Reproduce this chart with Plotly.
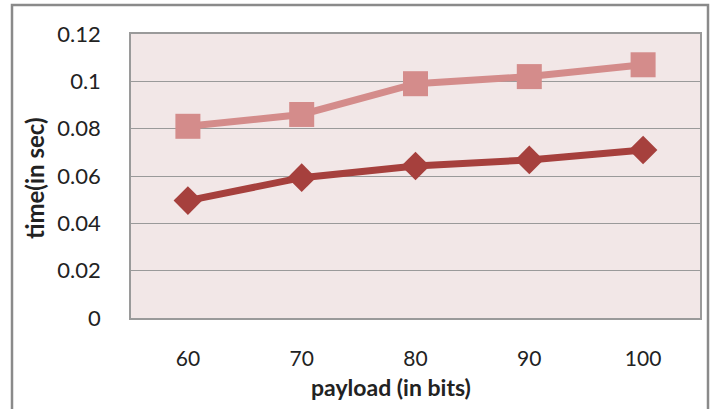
import plotly.graph_objects as go

categories = ["60", "70", "80", "90", "100"]
series_square = [0.081, 0.086, 0.099, 0.102, 0.107]
series_diamond = [0.0496, 0.0593, 0.0642, 0.0668, 0.071]
y_ticks = [0, 0.02, 0.04, 0.06, 0.08, 0.1, 0.12]
y_tick_labels = ["0", "0.02", "0.04", "0.06", "0.08", "0.1", "0.12"]
x_title = "payload (in bits)"
y_title = "time(in sec)"

FONT = "Lato"

fig = go.Figure()
fig.add_trace(go.Scatter(
    x=categories, y=series_square, mode="lines+markers",
    line=dict(color="#d48c8b", width=7),
    marker=dict(symbol="square", size=25, color="#d48c8b"),
    showlegend=False,
))
fig.add_trace(go.Scatter(
    x=categories, y=series_diamond, mode="lines+markers",
    line=dict(color="#a6403d", width=7),
    marker=dict(symbol="diamond", size=22, color="#a6403d"),
    showlegend=False,
))

L, T, R, B = 131, 34, 14, 91
W, H = 714, 409
pw, ph = W - L - R, H - T - B

def px_x(v):
    return (v - L) / pw

def px_y(v):
    return (H - B - v) / ph

fig.update_layout(
    width=W, height=H,
    margin=dict(l=L, t=T, r=R, b=B),
    paper_bgcolor="white",
    plot_bgcolor="#f2e7e7",
    font=dict(family=FONT, color="#222222", size=22),
    xaxis=dict(
        type="category", range=[-0.5, 4.5],
        showgrid=False, showline=True, linecolor="#9a9a9a", linewidth=1.5, mirror=True,
        ticks="outside", ticklen=21, tickcolor="rgba(0,0,0,0)",
        tickfont=dict(size=21),
        zeroline=False,
    ),
    yaxis=dict(
        range=[0, 0.12], tickvals=y_ticks, ticktext=y_tick_labels,
        showgrid=True, gridcolor="#9a9a9a", gridwidth=1.2,
        showline=True, linecolor="#9a9a9a", linewidth=1.5, mirror=True,
        ticks="outside", ticklen=24, tickcolor="rgba(0,0,0,0)",
        tickfont=dict(size=22),
        zeroline=False,
    ),
    annotations=[
        dict(text="<b>" + x_title + "</b>", xref="paper", yref="paper",
             x=px_x(391), y=px_y(387), xanchor="center", yanchor="middle",
             showarrow=False, font=dict(size=23)),
        dict(text="<b>" + y_title + "</b>", xref="paper", yref="paper",
             x=px_x(34), y=px_y(178), xanchor="center", yanchor="middle",
             textangle=-90, showarrow=False, font=dict(size=24)),
    ],
    shapes=[dict(
        type="rect", xref="paper", yref="paper",
        x0=px_x(12), x1=px_x(708), y0=px_y(420), y1=px_y(5),
        line=dict(color="#8a8a8a", width=2.5), fillcolor="rgba(0,0,0,0)", layer="below",
    )],
)

fig.write_html(
    "out.html",
    config={"displayModeBar": False},
    post_script="document.body.style.margin='0';document.body.style.padding='0';",
)
